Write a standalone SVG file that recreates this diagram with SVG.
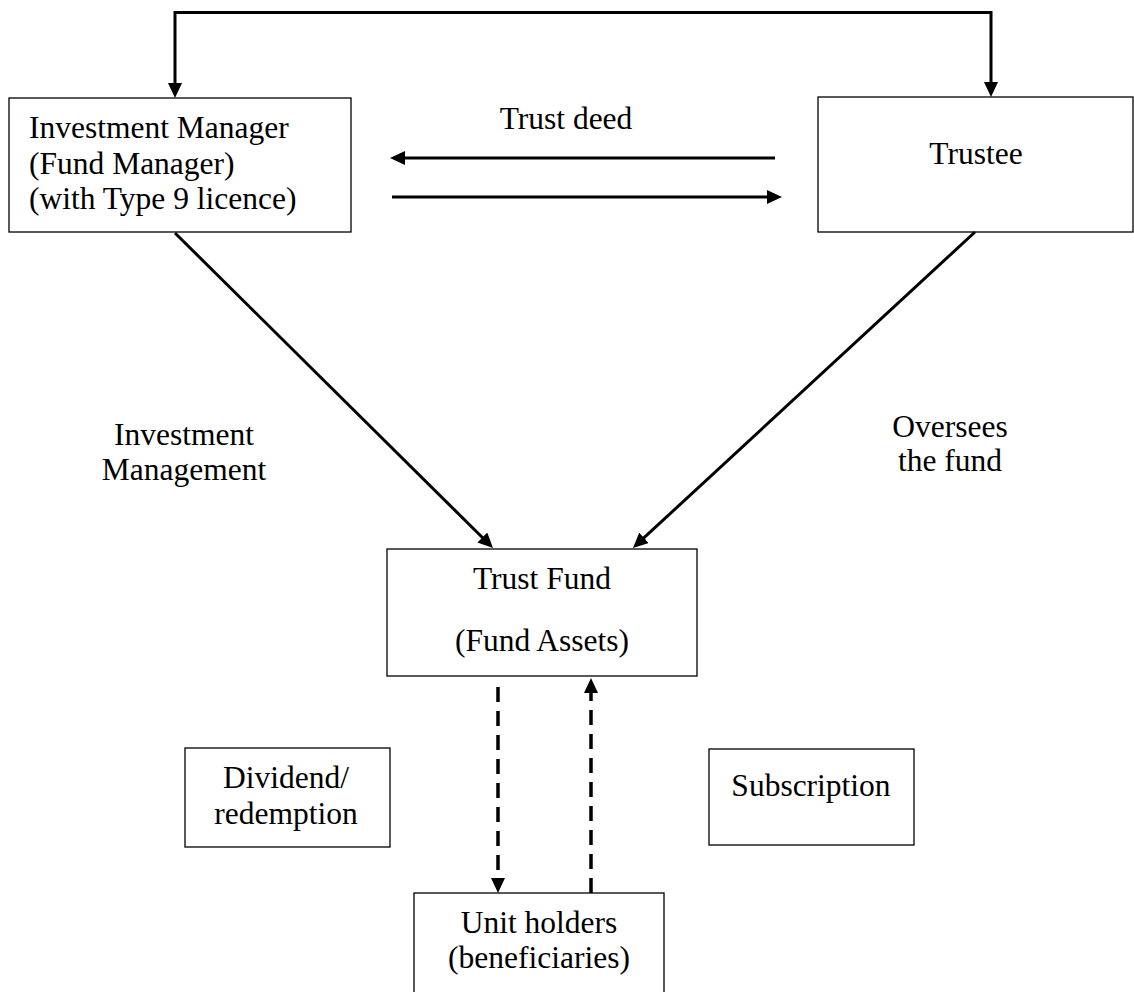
<svg xmlns="http://www.w3.org/2000/svg" width="1134" height="992" viewBox="0 0 1134 992">
  <style>
    .box { fill: #ffffff; stroke: #000000; stroke-width: 1.3; }
    .t { font-family: "Liberation Serif", "Times New Roman", serif; font-size: 31.5px; fill: #000000; }
    .c { text-anchor: middle; }
    .ln { fill: none; stroke: #000000; stroke-width: 3; stroke-linejoin: miter; }
    .dash { fill: none; stroke: #000000; stroke-width: 3.5; stroke-dasharray: 15 9; }
  </style>
  <defs>
    <marker id="ah" viewBox="0 0 15 14" refX="5" refY="7" markerWidth="15" markerHeight="14" markerUnits="userSpaceOnUse" orient="auto-start-reverse">
      <path d="M0,0 L15,7 L0,14 z" fill="#000000"/>
    </marker>
  </defs>
  <rect width="1134" height="992" fill="#ffffff"/>

  <g id="investment-manager">
    <rect class="box" x="9" y="98" width="342" height="134"/>
    <text class="t" x="29" y="138">Investment Manager</text>
    <text class="t" x="29" y="174">(Fund Manager)</text>
    <text class="t" x="29" y="209">(with Type 9 licence)</text>
  </g>

  <g id="trustee">
    <rect class="box" x="818" y="97" width="315" height="135"/>
    <text class="t c" x="976" y="164">Trustee</text>
  </g>

  <g id="trust-fund">
    <rect class="box" x="387" y="549" width="310" height="127"/>
    <text class="t c" x="542" y="589">Trust Fund</text>
    <text class="t c" x="542" y="651">(Fund Assets)</text>
  </g>

  <g id="dividend-redemption">
    <rect class="box" x="185" y="748" width="205" height="99"/>
    <text class="t c" x="286" y="788">Dividend/</text>
    <text class="t c" x="286" y="824">redemption</text>
  </g>

  <g id="subscription">
    <rect class="box" x="709" y="749" width="205" height="96"/>
    <text class="t c" x="811" y="796">Subscription</text>
  </g>

  <g id="unit-holders">
    <rect class="box" x="414" y="893" width="250" height="110"/>
    <text class="t c" x="539" y="933">Unit holders</text>
    <text class="t c" x="539" y="968">(beneficiaries)</text>
  </g>

  <g id="labels">
    <text class="t c" x="566" y="129">Trust deed</text>
    <text class="t c" x="184" y="445">Investment</text>
    <text class="t c" x="184" y="480">Management</text>
    <text class="t c" x="950" y="437">Oversees</text>
    <text class="t c" x="950" y="471">the fund</text>
  </g>

  <g id="connectors">
    <path class="ln" d="M175,88 V12.5 H991 V87" marker-start="url(#ah)" marker-end="url(#ah)"/>
    <path class="ln" d="M775,158 H400" marker-end="url(#ah)"/>
    <path class="ln" d="M392,197 H772" marker-end="url(#ah)"/>
    <path class="ln" d="M175,233 L485.9,541" marker-end="url(#ah)"/>
    <path class="ln" d="M975,232 L640.3,541.2" marker-end="url(#ah)"/>
    <path class="dash" d="M498,687 V883" marker-end="url(#ah)"/>
    <path class="dash" d="M591,893 V688" marker-end="url(#ah)"/>
  </g>
</svg>
